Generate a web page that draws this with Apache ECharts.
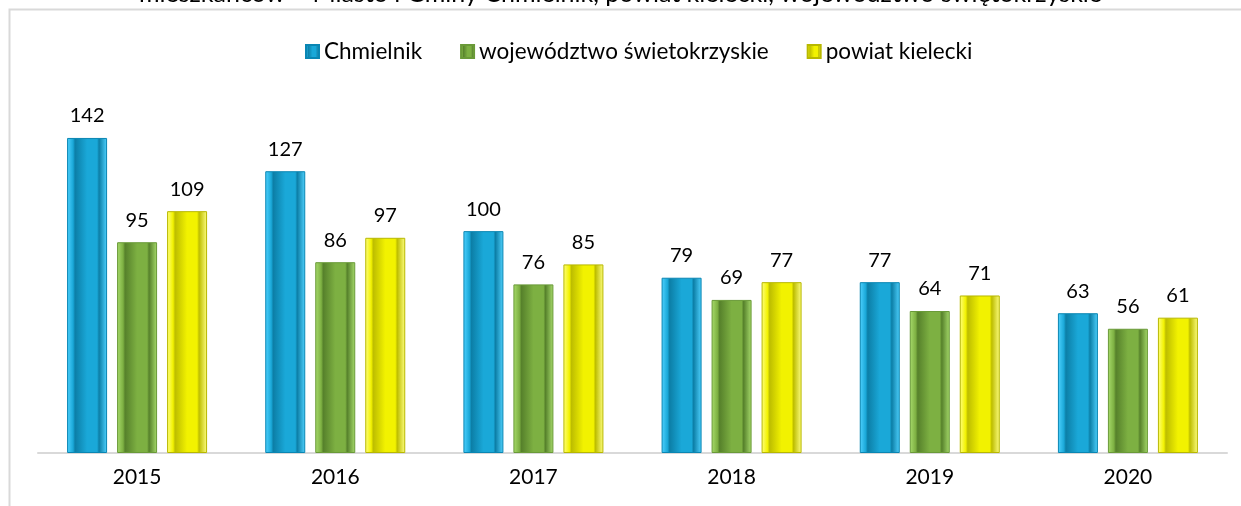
<!DOCTYPE html>
<html>
<head>
<meta charset="utf-8">
<script src="https://cdn.jsdelivr.net/npm/echarts@6/dist/echarts.min.js"></script>
<style>
html, body { margin: 0; padding: 0; background: #fff; }
#chart { width: 1241px; height: 506px; }
</style>
</head>
<body>
<div id="chart"></div>
<script>
var years = ['2015', '2016', '2017', '2018', '2019', '2020'];
var chmielnik = [142, 127, 100, 79, 77, 63];
var wojewodztwo = [95, 86, 76, 69, 64, 56];
var powiat = [109, 97, 85, 77, 71, 61];

var font = 'Lato, "Open Sans", sans-serif';

// bevel-ish look: light edges, darker right side
function bevel(light, mid, dark) {
	return new echarts.graphic.LinearGradient(0, 0, 1, 0, [
		{ offset: 0, color: light },
		{ offset: 0.15, color: mid },
		{ offset: 0.2, color: dark },
		{ offset: 0.5, color: mid },
		{ offset: 0.75, color: mid },
		{ offset: 0.8, color: dark },
		{ offset: 1, color: light }
	]);
}

function barSeries(name, data, light, mid, dark, border) {
	return {
		name : name,
		type : 'bar',
		data : data,
		barWidth : 40,
		barGap : '25%',
		itemStyle : {
			color : bevel(light, mid, dark),
			borderColor : border,
			borderWidth : 1
		},
		label : {
			show : true,
			position : 'top',
			distance : 12,
			color : '#000',
			fontSize : 20,
			fontFamily : font
		}
	};
}

var chart = echarts.init(document.getElementById('chart'));
var option = {
	animation : false,
	title : {
		text : 'mieszkańców – Miasto i Gminy Chmielnik, powiat kielecki, województwo świętokrzyskie',
		left : 'center',
		top : -24,
		textStyle : { fontSize : 25, fontWeight : 'normal', color : '#000', fontFamily : font }
	},
	graphic : [ {
		type : 'rect',
		shape : { x : 9.5, y : 9.5, width : 1250, height : 520 },
		style : { fill : 'none', stroke : '#d9d9d9', lineWidth : 2 },
		silent : true
	} ],
	legend : {
		top : 35,
		left : 300,
		itemGap : 38,
		itemWidth : 13,
		itemHeight : 13,
		icon : 'rect',
		textStyle : { fontSize : 22.5, color : '#000', fontFamily : font }
	},
	grid : {
		left : 38,
		right : 14,
		top : 98,
		bottom : 53
	},
	xAxis : {
		type : 'category',
		data : years,
		axisTick : { show : false },
		axisLine : { lineStyle : { color : '#d9d9d9', width : 2 } },
		axisLabel : { color : '#000', fontSize : 21, margin : 14, fontFamily : font }
	},
	yAxis : {
		type : 'value',
		min : 0,
		max : 160,
		show : false,
		splitLine : { show : false }
	},
	series : [
		barSeries('Chmielnik', chmielnik, '#4fd2ff', '#1aa8d8', '#0c7ea6', '#0a86b3'),
		barSeries('województwo świetokrzyskie', wojewodztwo, '#a8dc6c', '#7db042', '#56812b', '#6a9a38'),
		barSeries('powiat kielecki', powiat, '#ffff80', '#f2f200', '#bdbd00', '#b8b800')
	]
};
chart.setOption(option);
</script>
</body>
</html>
